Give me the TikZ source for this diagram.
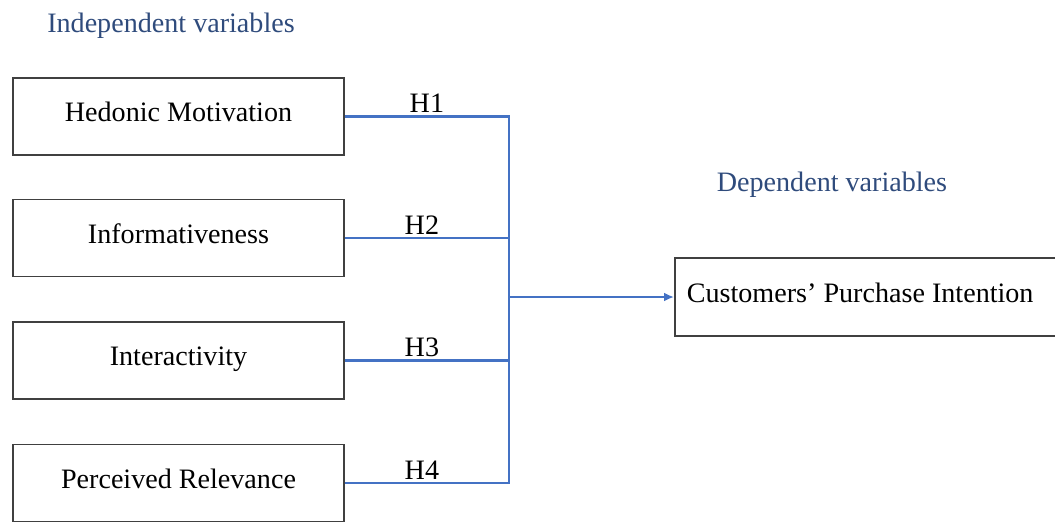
\documentclass[tikz,border=0pt]{standalone}
\usepackage{fontspec}
\setmainfont{Liberation Serif}
\usetikzlibrary{arrows.meta}
\begin{document}
\begin{tikzpicture}[x=0.02cm,y=-0.02cm,
    font=\fontsize{16}{19}\selectfont,
    varbox/.style={shape=rectangle,draw=black!75,line width=1pt,minimum width=6.62cm,minimum height=1.54cm,text height=11pt,text depth=5pt},
    depbox/.style={shape=rectangle,draw=black!75,line width=1pt,text width=7.5cm,align=flush left,inner xsep=0.24cm,minimum height=1.56cm,text height=11pt,text depth=5pt},
    link/.style={draw=cpi_line,line width=1.5pt},
    hlabel/.style={above,inner sep=1.5pt}]
    \definecolor{cpi_line}{RGB}{68,114,196}
    \definecolor{cpi_head}{RGB}{47,75,124}
    \clip (0,0) rectangle (1055,521);
    \node[text=cpi_head] (indep) at (171,26) {Independent variables};
    \node[text=cpi_head] (dep) at (832,185) {Dependent variables};
    \node[varbox] (hm)  at (178.5,116.5) {Hedonic Motivation};
    \node[varbox] (inf) at (178.5,238)   {Informativeness};
    \node[varbox] (int) at (178.5,360.5) {Interactivity};
    \node[varbox] (pr)  at (178.5,483)   {Perceived Relevance};
    \node[depbox,anchor=west] (cpi) at (674,297) {Customers’ Purchase Intention};
    \coordinate (jn) at (509,297);
    \draw[link] (hm.east) -- node[hlabel] {H1} (hm.east -| jn) -- (jn);
    \draw[link] (inf.east) -- node[hlabel,xshift=-0.1cm] {H2} (inf.east -| jn);
    \draw[link] (int.east) -- node[hlabel,xshift=-0.1cm] {H3} (int.east -| jn);
    \draw[link] (pr.east) -- node[hlabel,xshift=-0.1cm] {H4} (pr.east -| jn) -- (jn);
    \draw[link,-{Latex[length=0.2cm,width=0.18cm]}] (jn) -- (cpi.west);
\end{tikzpicture}
\end{document}
